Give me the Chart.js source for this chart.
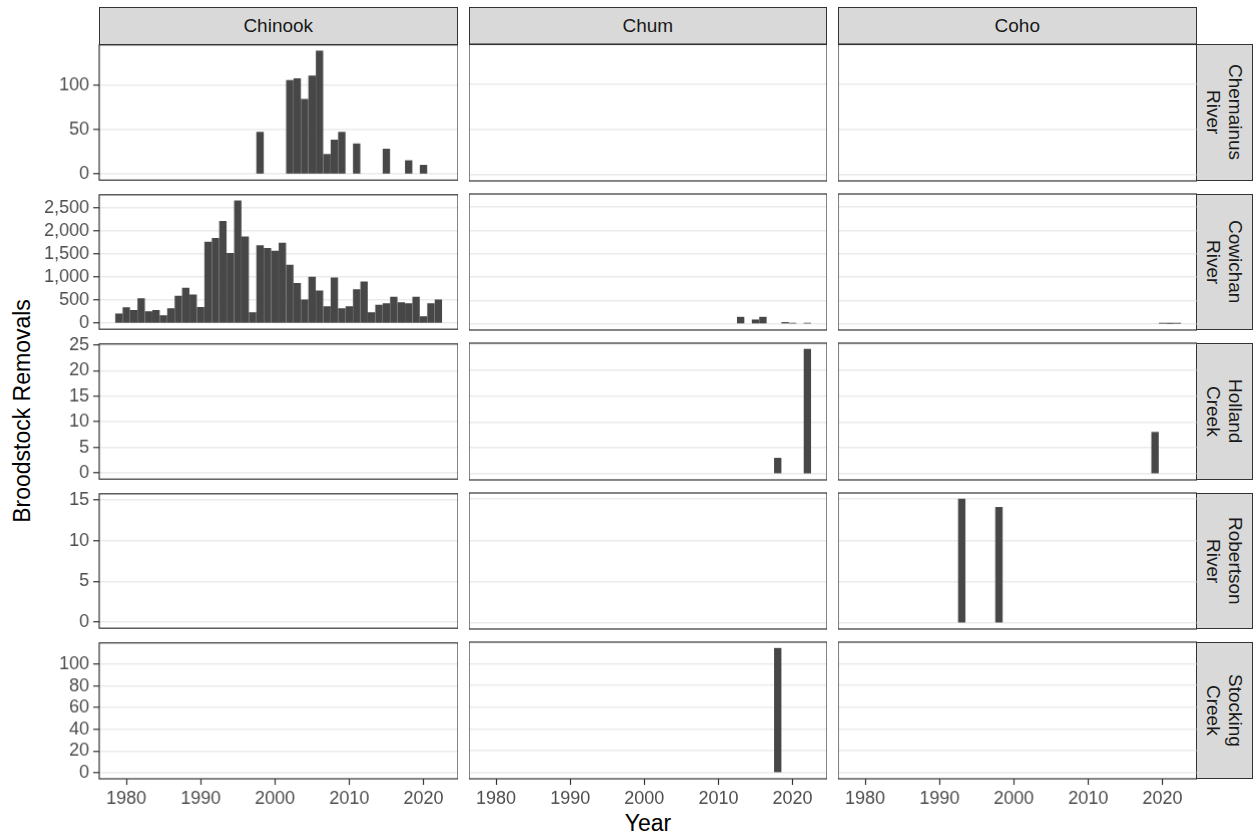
<!DOCTYPE html>
<html>
<head>
<meta charset="utf-8">
<script src="https://cdn.jsdelivr.net/npm/chart.js@4/dist/chart.umd.min.js"></script>
<style>
  body { margin: 0; background: #fff; font-family: "Liberation Sans", Arial, sans-serif; }
  #wrap { position: relative; width: 1254px; height: 836px; overflow: hidden; background: #fff; }
  #wrap canvas { position: absolute; }
  .strip { position: absolute; background: #d9d9d9; border: 1.2px solid #333; box-sizing: border-box;
           display: flex; align-items: center; justify-content: center; color: #1a1a1a; font-size: 19px; }
  .strip.side { writing-mode: vertical-rl; line-height: 1.15; text-align: center; }
  .title { position: absolute; color: #000; font-size: 23px; white-space: nowrap; }
</style>
</head>
<body>
<div id="wrap"></div>
<script>
// --- DATA ---

const SPECIES = ['Chinook', 'Chum', 'Coho'];
const RIVERS = ['Chemainus<br>River', 'Cowichan<br>River', 'Holland<br>Creek', 'Robertson<br>River', 'Stocking<br>Creek'];

const X_TICKS = [1980, 1990, 2000, 2010, 2020];
const Y_TICKS_CHEMAINUS = [0, 50, 100];
const Y_TICKS_COWICHAN = [0, 500, 1000, 1500, 2000, 2500];
const Y_TICKS_HOLLAND = [0, 5, 10, 15, 20, 25];
const Y_TICKS_ROBERTSON = [0, 5, 10, 15];
const Y_TICKS_STOCKING = [0, 20, 40, 60, 80, 100];

const CHEMAINUS_CHINOOK_YEARS = [1998, 2002, 2003, 2004, 2005, 2006, 2007, 2008, 2009, 2011, 2015, 2018, 2020];
const CHEMAINUS_CHINOOK = [47, 105, 107, 84, 110, 138, 22, 38, 47, 34, 28, 15, 10];

const COWICHAN_CHINOOK_YEARS = [1979, 1980, 1981, 1982, 1983, 1984, 1985, 1986, 1987, 1988, 1989,
  1990, 1991, 1992, 1993, 1994, 1995, 1996, 1997, 1998, 1999, 2000, 2001, 2002, 2003, 2004, 2005,
  2006, 2007, 2008, 2009, 2010, 2011, 2012, 2013, 2014, 2015, 2016, 2017, 2018, 2019, 2020, 2021, 2022];
const COWICHAN_CHINOOK = [200, 336, 279, 529, 250, 279, 164, 314, 586, 757, 614,
  343, 1757, 1836, 2207, 1514, 2650, 1871, 229, 1679, 1621, 1564, 1736, 1257, 864, 507, 1000,
  700, 357, 979, 314, 357, 729, 893, 229, 393, 421, 564, 443, 421, 564, 143, 421, 507];

const COWICHAN_CHUM_YEARS = [2013, 2015, 2016, 2019, 2020, 2022];
const COWICHAN_CHUM = [143, 86, 143, 30, 15, 15];

const COWICHAN_COHO_YEARS = [2020, 2021, 2022];
const COWICHAN_COHO = [12, 8, 12];

const HOLLAND_CHUM_YEARS = [2018, 2022];
const HOLLAND_CHUM = [3, 24];

const HOLLAND_COHO_YEARS = [2019];
const HOLLAND_COHO = [8];

const ROBERTSON_COHO_YEARS = [1993, 1998];
const ROBERTSON_COHO = [15, 14];

const STOCKING_CHUM_YEARS = [2018];
const STOCKING_CHUM = [114];

// rows = rivers, columns = species; [years, values] or null for an empty panel
const PANELS = [
  [[CHEMAINUS_CHINOOK_YEARS, CHEMAINUS_CHINOOK], null, null],
  [[COWICHAN_CHINOOK_YEARS, COWICHAN_CHINOOK], [COWICHAN_CHUM_YEARS, COWICHAN_CHUM], [COWICHAN_COHO_YEARS, COWICHAN_COHO]],
  [null, [HOLLAND_CHUM_YEARS, HOLLAND_CHUM], [HOLLAND_COHO_YEARS, HOLLAND_COHO]],
  [null, null, [ROBERTSON_COHO_YEARS, ROBERTSON_COHO]],
  [null, [STOCKING_CHUM_YEARS, STOCKING_CHUM], null]
];
const ROW_TICKS = [Y_TICKS_CHEMAINUS, Y_TICKS_COWICHAN, Y_TICKS_HOLLAND, Y_TICKS_ROBERTSON, Y_TICKS_STOCKING];

// --- LAYOUT ---

const PANEL_LEFT = [99, 468.5, 838];
const PANEL_W = 358.5;
const ROW_TOP = [44, 193.5, 343, 492.5, 642];
const PANEL_H = 136.5;
const PAD = 14;          // room above/below each panel for tick labels
const XAXIS_H = 40;
const FONT = '"Liberation Sans", Arial, sans-serif';

// shared x range, ggplot style: bar width 0.9 and 5% expansion
const allYears = PANELS.flat().filter(p => p).flatMap(p => p[0]);
const xLo = Math.min(...allYears) - 0.45;
const xHi = Math.max(...allYears) + 0.45;
const X_MIN = xLo - 0.05 * (xHi - xLo);
const X_MAX = xHi + 0.05 * (xHi - xLo);
const BAR_W = 0.9 * PANEL_W / (X_MAX - X_MIN);

const panelBorder = {
  id: 'panelBorder',
  afterDraw(chart) {
    const { ctx, chartArea: a } = chart;
    ctx.save();
    ctx.strokeStyle = '#333333';
    ctx.lineWidth = 1.2;
    ctx.strokeRect(a.left, a.top, a.right - a.left, a.bottom - a.top);
    ctx.restore();
  }
};

const wrap = document.getElementById('wrap');

function addDiv(cls, html, css) {
  const d = document.createElement('div');
  d.className = cls;
  d.innerHTML = html;
  Object.assign(d.style, css);
  wrap.appendChild(d);
}

SPECIES.forEach((s, c) => addDiv('strip', s, {
  left: PANEL_LEFT[c] + 'px', top: '7px', width: PANEL_W + 'px', height: (44 - 7 + 1) + 'px'
}));
RIVERS.forEach((r, i) => addDiv('strip side', r, {
  left: (PANEL_LEFT[2] + PANEL_W - 1) + 'px', top: ROW_TOP[i] + 'px', width: '57px', height: PANEL_H + 'px'
}));
addDiv('title', 'Broodstock Removals', {
  left: '22px', top: '411px', transform: 'translate(-50%, -50%) rotate(-90deg)'
});
addDiv('title', 'Year', {
  left: '648px', top: '823px', transform: 'translate(-50%, -50%)'
});

function makePanel(r, c) {
  const panel = PANELS[r][c];
  const rowVals = PANELS[r].filter(p => p).flatMap(p => p[1]);
  const yTop = Math.max(...rowVals);
  const leftCol = c === 0;
  const bottomRow = r === PANELS.length - 1;
  const axisW = leftCol ? PANEL_LEFT[0] : 0;

  const canvas = document.createElement('canvas');
  const w = axisW + PANEL_W;
  const h = PAD + PANEL_H + (bottomRow ? XAXIS_H : PAD);
  canvas.width = w;
  canvas.height = h;
  canvas.style.left = (PANEL_LEFT[c] - axisW) + 'px';
  canvas.style.top = (ROW_TOP[r] - PAD) + 'px';
  canvas.style.width = w + 'px';
  canvas.style.height = h + 'px';
  wrap.appendChild(canvas);

  const data = panel ? panel[0].map((yr, i) => ({ x: yr, y: panel[1][i] })) : [];

  new Chart(canvas.getContext('2d'), {
    type: 'bar',
    data: {
      datasets: [{
        data: data,
        backgroundColor: '#474747',
        borderWidth: 0,
        barThickness: BAR_W
      }]
    },
    options: {
      responsive: false,
      animation: false,
      layout: { padding: { top: PAD, bottom: bottomRow ? 0 : PAD, left: 0, right: 0 } },
      plugins: { legend: { display: false }, tooltip: { enabled: false } },
      scales: {
        x: {
          type: 'linear',
          display: bottomRow,
          min: X_MIN,
          max: X_MAX,
          offset: false,
          afterBuildTicks: (axis) => { axis.ticks = X_TICKS.map(v => ({ value: v })); },
          afterFit: (axis) => { axis.height = bottomRow ? XAXIS_H : 0; },
          border: { display: false },
          grid: { offset: false, drawOnChartArea: false, drawTicks: true, tickLength: 6, tickColor: '#333333', tickWidth: 1.2 },
          ticks: { autoSkip: false, maxRotation: 0, padding: 3, color: '#4d4d4d', font: { family: FONT, size: 18 },
                   callback: v => String(v) }
        },
        y: {
          type: 'linear',
          min: -0.05 * yTop,
          max: 1.05 * yTop,
          afterBuildTicks: (axis) => { axis.ticks = ROW_TICKS[r].map(v => ({ value: v })); },
          afterFit: (axis) => { axis.width = axisW; },
          border: { display: false },
          grid: { color: '#ebebeb', lineWidth: 1.5, drawTicks: leftCol, tickLength: 6, tickColor: '#333333', tickWidth: 1.2 },
          ticks: { display: leftCol, autoSkip: false, padding: 4, color: '#4d4d4d', font: { family: FONT, size: 18 },
                   callback: v => v.toLocaleString('en-US') }
        }
      }
    },
    plugins: [panelBorder]
  });
}

for (let r = 0; r < PANELS.length; r++) {
  for (let c = 0; c < SPECIES.length; c++) makePanel(r, c);
}
</script>
</body>
</html>
